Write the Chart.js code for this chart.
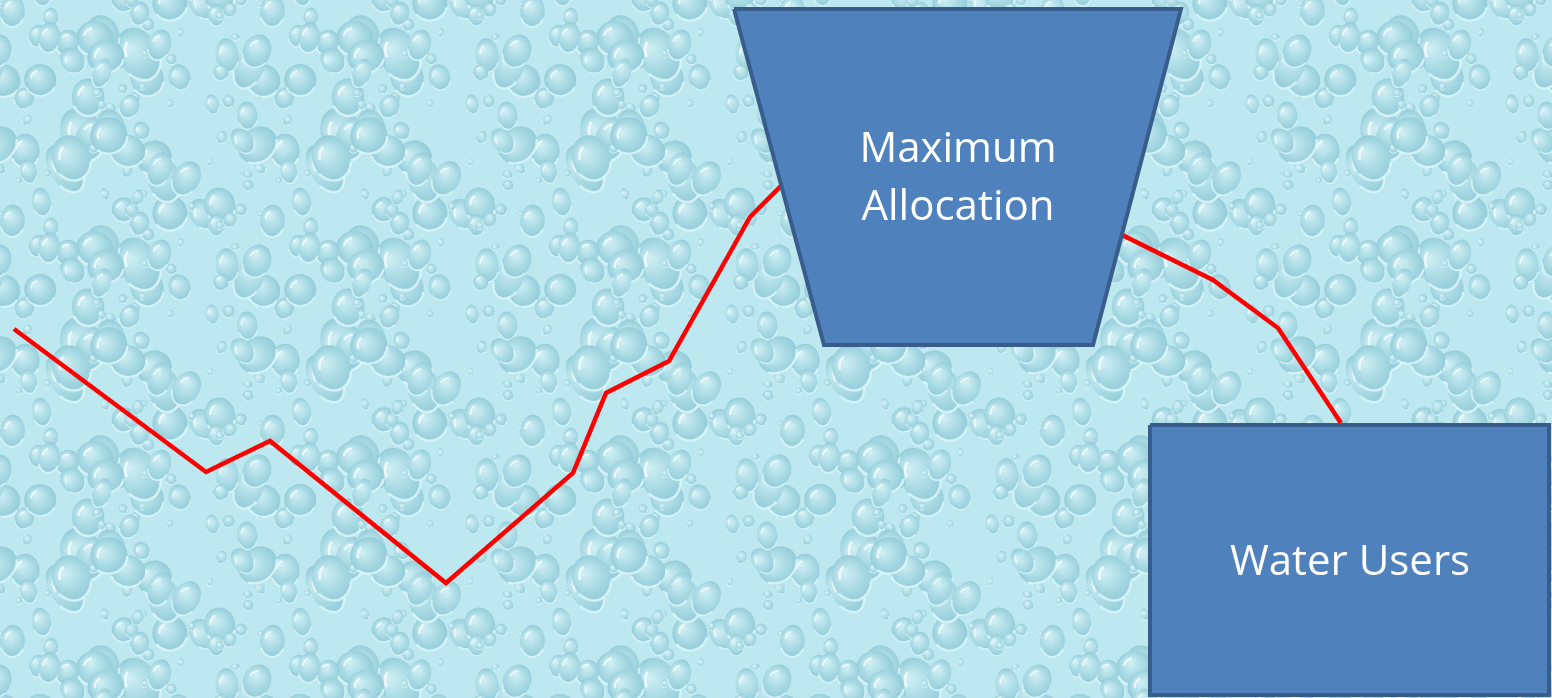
<!DOCTYPE html>
<html>
<head>
<meta charset="utf-8">
<title>Maximum Allocation</title>
<script src="https://cdn.jsdelivr.net/npm/chart.js@4.4.1/dist/chart.umd.min.js"></script>
<style>
  html, body { margin: 0; padding: 0; overflow: hidden; background: #b6e3ea; }
  #chart { display: block; }
</style>
</head>
<body>
<canvas id="chart" width="1552" height="698"></canvas>
<script>
// red flow line (slide units, y measured from top)
const flowX = [14, 206, 270, 446, 573, 606, 669, 750, 782, 1118, 1213, 1278, 1341];
const flowY = [329, 472, 441, 583, 473, 393, 361, 217, 185, 233, 280, 328, 423];

// "Maximum Allocation" trapezoid, closed outline
const trapX = [734, 1181, 1093, 824, 734];
const trapY = [9, 9, 345, 345, 9];

// "Water Users" box, closed outline
const boxX = [1150, 1549, 1549, 1150, 1150];
const boxY = [425, 425, 695, 695, 425];

const shapeLabels = [["Maximum", "Allocation"], ["Water Users"]];
const labelX = [958, 1350];
const labelY = [150, 563];

const pts = (xs, ys) => xs.map((x, i) => ({ x: x, y: ys[i] }));

// water drop texture behind everything (decoration only)
function makeTile() {
  const t = document.createElement("canvas");
  t.width = 260;
  t.height = 210;
  const c = t.getContext("2d");
  c.fillStyle = "#bde8ef";
  c.fillRect(0, 0, t.width, t.height);
  let s = 11;
  const rnd = () => {
    s = (s * 16807) % 2147483647;
    return s / 2147483647;
  };
  for (let i = 0; i < 95; i++) {
    const x = rnd() * t.width;
    const y = rnd() * t.height;
    const r = 3 + Math.pow(rnd(), 2.4) * 20;
    const rx = r * (0.75 + rnd() * 0.35);
    const ry = r * (0.85 + rnd() * 0.5);
    const rot = -0.7 + rnd() * 1.4;
    for (const dx of [-t.width, 0, t.width]) {
      for (const dy of [-t.height, 0, t.height]) {
        const cx = x + dx, cy = y + dy;
        if (cx + rx < 0 || cx - rx > t.width || cy + ry < 0 || cy - ry > t.height) continue;
        c.save();
        c.translate(cx, cy);
        c.rotate(rot);
        const g = c.createRadialGradient(-rx * 0.3, -ry * 0.35, 1, 0, 0, Math.max(rx, ry));
        g.addColorStop(0, "#cfeff4");
        g.addColorStop(0.6, "#a9dae4");
        g.addColorStop(1, "#93ccd9");
        c.fillStyle = g;
        c.beginPath();
        c.ellipse(0, 0, rx, ry, 0, 0, Math.PI * 2);
        c.fill();
        c.strokeStyle = "rgba(220,247,250,0.85)";
        c.lineWidth = Math.max(1, r * 0.12);
        c.beginPath();
        c.ellipse(0, 0, rx, ry, 0, Math.PI * 0.15, Math.PI * 0.85);
        c.stroke();
        if (r > 7) {
          c.strokeStyle = "rgba(255,255,255,0.7)";
          c.lineWidth = Math.max(1.2, r * 0.12);
          c.beginPath();
          c.ellipse(0, 0, rx * 0.6, ry * 0.6, 0, Math.PI * 1.05, Math.PI * 1.4);
          c.stroke();
        }
        c.restore();
      }
    }
  }
  return t;
}

const backdrop = {
  id: "backdrop",
  beforeDraw(chart) {
    const ctx = chart.ctx;
    ctx.save();
    ctx.fillStyle = ctx.createPattern(makeTile(), "repeat");
    ctx.fillRect(0, 0, chart.width, chart.height);
    ctx.restore();
  }
};

const shapeText = {
  id: "shapeText",
  afterDatasetsDraw(chart) {
    const ctx = chart.ctx;
    const xs = chart.scales.x, ys = chart.scales.y;
    ctx.save();
    ctx.fillStyle = "#ffffff";
    ctx.font = "42px 'Open Sans'";
    ctx.textAlign = "center";
    ctx.textBaseline = "middle";
    shapeLabels.forEach((lines, i) => {
      lines.forEach((line, j) => {
        ctx.fillText(line, xs.getPixelForValue(labelX[i]), ys.getPixelForValue(labelY[i] + j * 58));
      });
    });
    ctx.restore();
  }
};

new Chart(document.getElementById("chart"), {
  type: "line",
  data: {
    datasets: [
      {
        label: "Maximum Allocation",
        data: pts(trapX, trapY),
        borderColor: "#385d8a",
        backgroundColor: "#4f81bd",
        borderWidth: 4,
        borderJoinStyle: "miter",
        fill: "shape",
        pointRadius: 0,
        tension: 0,
        order: 0
      },
      {
        label: "Water Users",
        data: pts(boxX, boxY),
        borderColor: "#385d8a",
        backgroundColor: "#4f81bd",
        borderWidth: 4,
        borderJoinStyle: "miter",
        fill: "shape",
        pointRadius: 0,
        tension: 0,
        order: 0
      },
      {
        label: "Flow",
        data: pts(flowX, flowY),
        borderColor: "#ff0000",
        borderWidth: 4.5,
        borderJoinStyle: "miter",
        fill: false,
        pointRadius: 0,
        tension: 0,
        order: 1
      }
    ]
  },
  options: {
    responsive: false,
    animation: false,
    layout: { padding: 0 },
    plugins: {
      legend: { display: false },
      tooltip: { enabled: false }
    },
    scales: {
      x: { type: "linear", min: 0, max: 1552, display: false },
      y: { type: "linear", min: 0, max: 698, reverse: true, display: false }
    }
  },
  plugins: [backdrop, shapeText]
});
</script>
</body>
</html>
